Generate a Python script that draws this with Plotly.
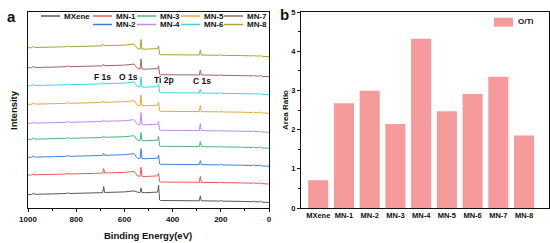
import plotly.graph_objects as go

# ---- panel a: XPS survey spectra ----
names = ["MXene", "MN-1", "MN-2", "MN-3", "MN-4", "MN-5", "MN-6", "MN-7", "MN-8"]
colors = ["#595959", "#F0575A", "#3F7FE0", "#4CB879", "#BF8AEF",
          "#E1AB37", "#3CD5DC", "#9C6565", "#A9A236"]

energy = [1000, 985, 978, 970, 900, 840, 833, 826, 700, 690, 686, 682, 600, 565, 560,
          545, 535, 531, 527, 515, 470, 462, 458, 454, 450, 440, 300, 289, 285, 281,
          205, 200, 195, 125, 120, 115, 70, 65, 60, 40, 35, 30, 0]
baseline = [0, 0, 1.2, 0.2, 0.6, 1.0, 1.8, 1.0, 1.8, 2.0, 2.0, 2.0, 2.6, 3.3, 3.6,
            -1.0, -1.3, -1.3, -1.3, -1.5, -1.3, -0.9, -1.1, -6.5, -7.0, -7.0, -7.3, -7.3, -7.3, -7.3,
            -7.6, -7.0, -7.6, -7.9, -7.2, -7.9, -8.2, -7.5, -8.2, -8.4, -7.6, -8.6, -9.0]

offsets = [12.5, 32, 49.7, 67.7, 83.7, 102.7, 121.3, 139.3, 159.3]
f_peak = [6, 4.5, 2, 1.5, 1.5, 1.5, 1.5, 1.5, 1.5]
o_peak = [4.5, 9, 10, 8, 12, 10.5, 10, 10, 9.5]
ti_peak = [7, 3, 3.5, 4, 3, 3.5, 3, 3, 3]
c_peak = [5, 6, 4, 5, 7, 6, 4, 5, 5]
mid_shift = [3.3, 0, 0, 0, 0, 0, 0, 0, 0]
tail_shift = [1, 0, 0, 0, 0, 0, 0, 0, 0]

peak_labels = ["F 1s", "O 1s", "Ti 2p", "C 1s"]
peak_label_x = [689, 581, 436, 279]
peak_label_y = [130, 130, 127, 126]

# ---- panel b: O/Ti area ratio ----
samples = ["MXene", "MN-1", "MN-2", "MN-3", "MN-4", "MN-5", "MN-6", "MN-7", "MN-8"]
ratio = [0.71, 2.67, 2.99, 2.14, 4.32, 2.47, 2.91, 3.35, 1.85]

FONT = "Arial, Liberation Sans, sans-serif"
W, H = 550, 243
ML, MR, MT, MB = 28, 1, 12, 35
PW, PH = W - ML - MR, H - MT - MB


def px_x(p):
    return (p - ML) / PW


def px_y(p):
    return (H - MB - p) / PH


def label(x, y, text, size, anchor="center", angle=0):
    return dict(xref="paper", yref="paper", x=px_x(x), y=px_y(y), text=text,
                textangle=angle, showarrow=False, xanchor=anchor, yanchor="middle",
                font=dict(size=size, color="#111", family=FONT))


fig = go.Figure()

for i, name in enumerate(names):
    y = []
    for e, b in zip(energy, baseline):
        v = offsets[i] + b
        if 545 >= e >= 458:
            v += mid_shift[i]
        if e < 458:
            v += tail_shift[i]
        if e == 686:
            v += f_peak[i]
        if e == 531:
            v += o_peak[i]
        if e == 458:
            v += ti_peak[i]
        if e == 285:
            v += c_peak[i]
        y.append(v)
    fig.add_trace(go.Scatter(x=energy, y=y, mode="lines", name=name,
                             line=dict(color=colors[i], width=1),
                             xaxis="x", yaxis="y", showlegend=False))

fig.add_trace(go.Bar(x=samples, y=ratio, name="O/Ti", marker_color="#F59B9B",
                     marker_line_width=0, xaxis="x2", yaxis="y2", showlegend=False))

shapes = []
annotations = []

# legend for panel a (two rows, columns)
leg_rows = [["MXene", "MN-1", "MN-3", "MN-5", "MN-7"],
            [None, "MN-2", "MN-4", "MN-6", "MN-8"]]
col_x = [41, 93, 137, 181, 224]
row_y = [16, 24.5]
for r, row in enumerate(leg_rows):
    for c, nm in enumerate(row):
        if nm is None:
            continue
        col = colors[names.index(nm)]
        shapes.append(dict(type="line", xref="paper", yref="paper",
                           x0=px_x(col_x[c]), x1=px_x(col_x[c] + 19),
                           y0=px_y(row_y[r]), y1=px_y(row_y[r]),
                           line=dict(color=col, width=1.5)))
        annotations.append(label(col_x[c] + 21, row_y[r], "<b>%s</b>" % nm, 8, "left"))

# legend for panel b
shapes.append(dict(type="rect", xref="paper", yref="paper",
                   x0=px_x(494), x1=px_x(513), y0=px_y(26.7), y1=px_y(17.7),
                   fillcolor="#F59B9B", line=dict(width=0)))
annotations.append(label(516, 22, "<b>O/Ti</b>", 8, "left"))

# peak labels
for t, xx, yy in zip(peak_labels, peak_label_x, peak_label_y):
    annotations.append(dict(xref="x", yref="y", x=xx, y=yy, text="<b>%s</b>" % t,
                            showarrow=False, xanchor="center", yanchor="middle",
                            font=dict(size=8.5, color="#111", family=FONT)))

# panel letters and axis titles
annotations.append(label(11, 17, "<b>a</b>", 15))
annotations.append(label(284, 15, "<b>b</b>", 15))
annotations.append(label(13, 110, "<b>Intensity</b>", 9.5, angle=-90))
annotations.append(label(148, 235, "<b>Binding Energy(eV)</b>", 9.5))
annotations.append(label(285, 110, "<b>Area Ratio</b>", 8, angle=-90))

axis_common = dict(showline=True, linecolor="#111", linewidth=1, mirror=True,
                   showgrid=False, zeroline=False, automargin=False)

fig.update_layout(
    width=W, height=H,
    margin=dict(l=ML, r=MR, t=MT, b=MB),
    paper_bgcolor="white", plot_bgcolor="white",
    font=dict(family=FONT, color="#111", size=8),
    shapes=shapes,
    annotations=annotations,
    bargap=0.22,
    xaxis=dict(axis_common, domain=[0, px_x(269)], range=[1000, 0],
               tickvals=[1000, 800, 600, 400, 200, 0],
               ticktext=["<b>1000</b>", "<b>800</b>", "<b>600</b>", "<b>400</b>", "<b>200</b>", "<b>0</b>"],
               ticks="outside", ticklen=3, tickwidth=1, tickcolor="#111",
               minor=dict(dtick=100, ticks="outside", ticklen=2, tickcolor="#111"),
               tickfont=dict(size=8)),
    yaxis=dict(axis_common, range=[-1, 195], showticklabels=False, ticks=""),
    xaxis2=dict(axis_common, domain=[px_x(301), 1], anchor="y2",
                range=[-0.67, 8.97], ticks="", tickfont=dict(size=7.5),
                tickvals=samples, ticktext=["<b>%s</b>" % s for s in samples]),
    yaxis2=dict(axis_common, anchor="x2", range=[0, 5], dtick=1,
                tickvals=[0, 1, 2, 3, 4, 5],
                ticktext=["<b>%d</b>" % v for v in range(6)],
                ticks="outside", ticklen=3, tickcolor="#111",
                minor=dict(dtick=0.5, ticks="outside", ticklen=2, tickcolor="#111"),
                tickfont=dict(size=7.5)),
)

fig.write_html("out.html", config={"displayModeBar": False},
               post_script="document.body.style.margin='0';document.body.style.overflow='hidden';")
